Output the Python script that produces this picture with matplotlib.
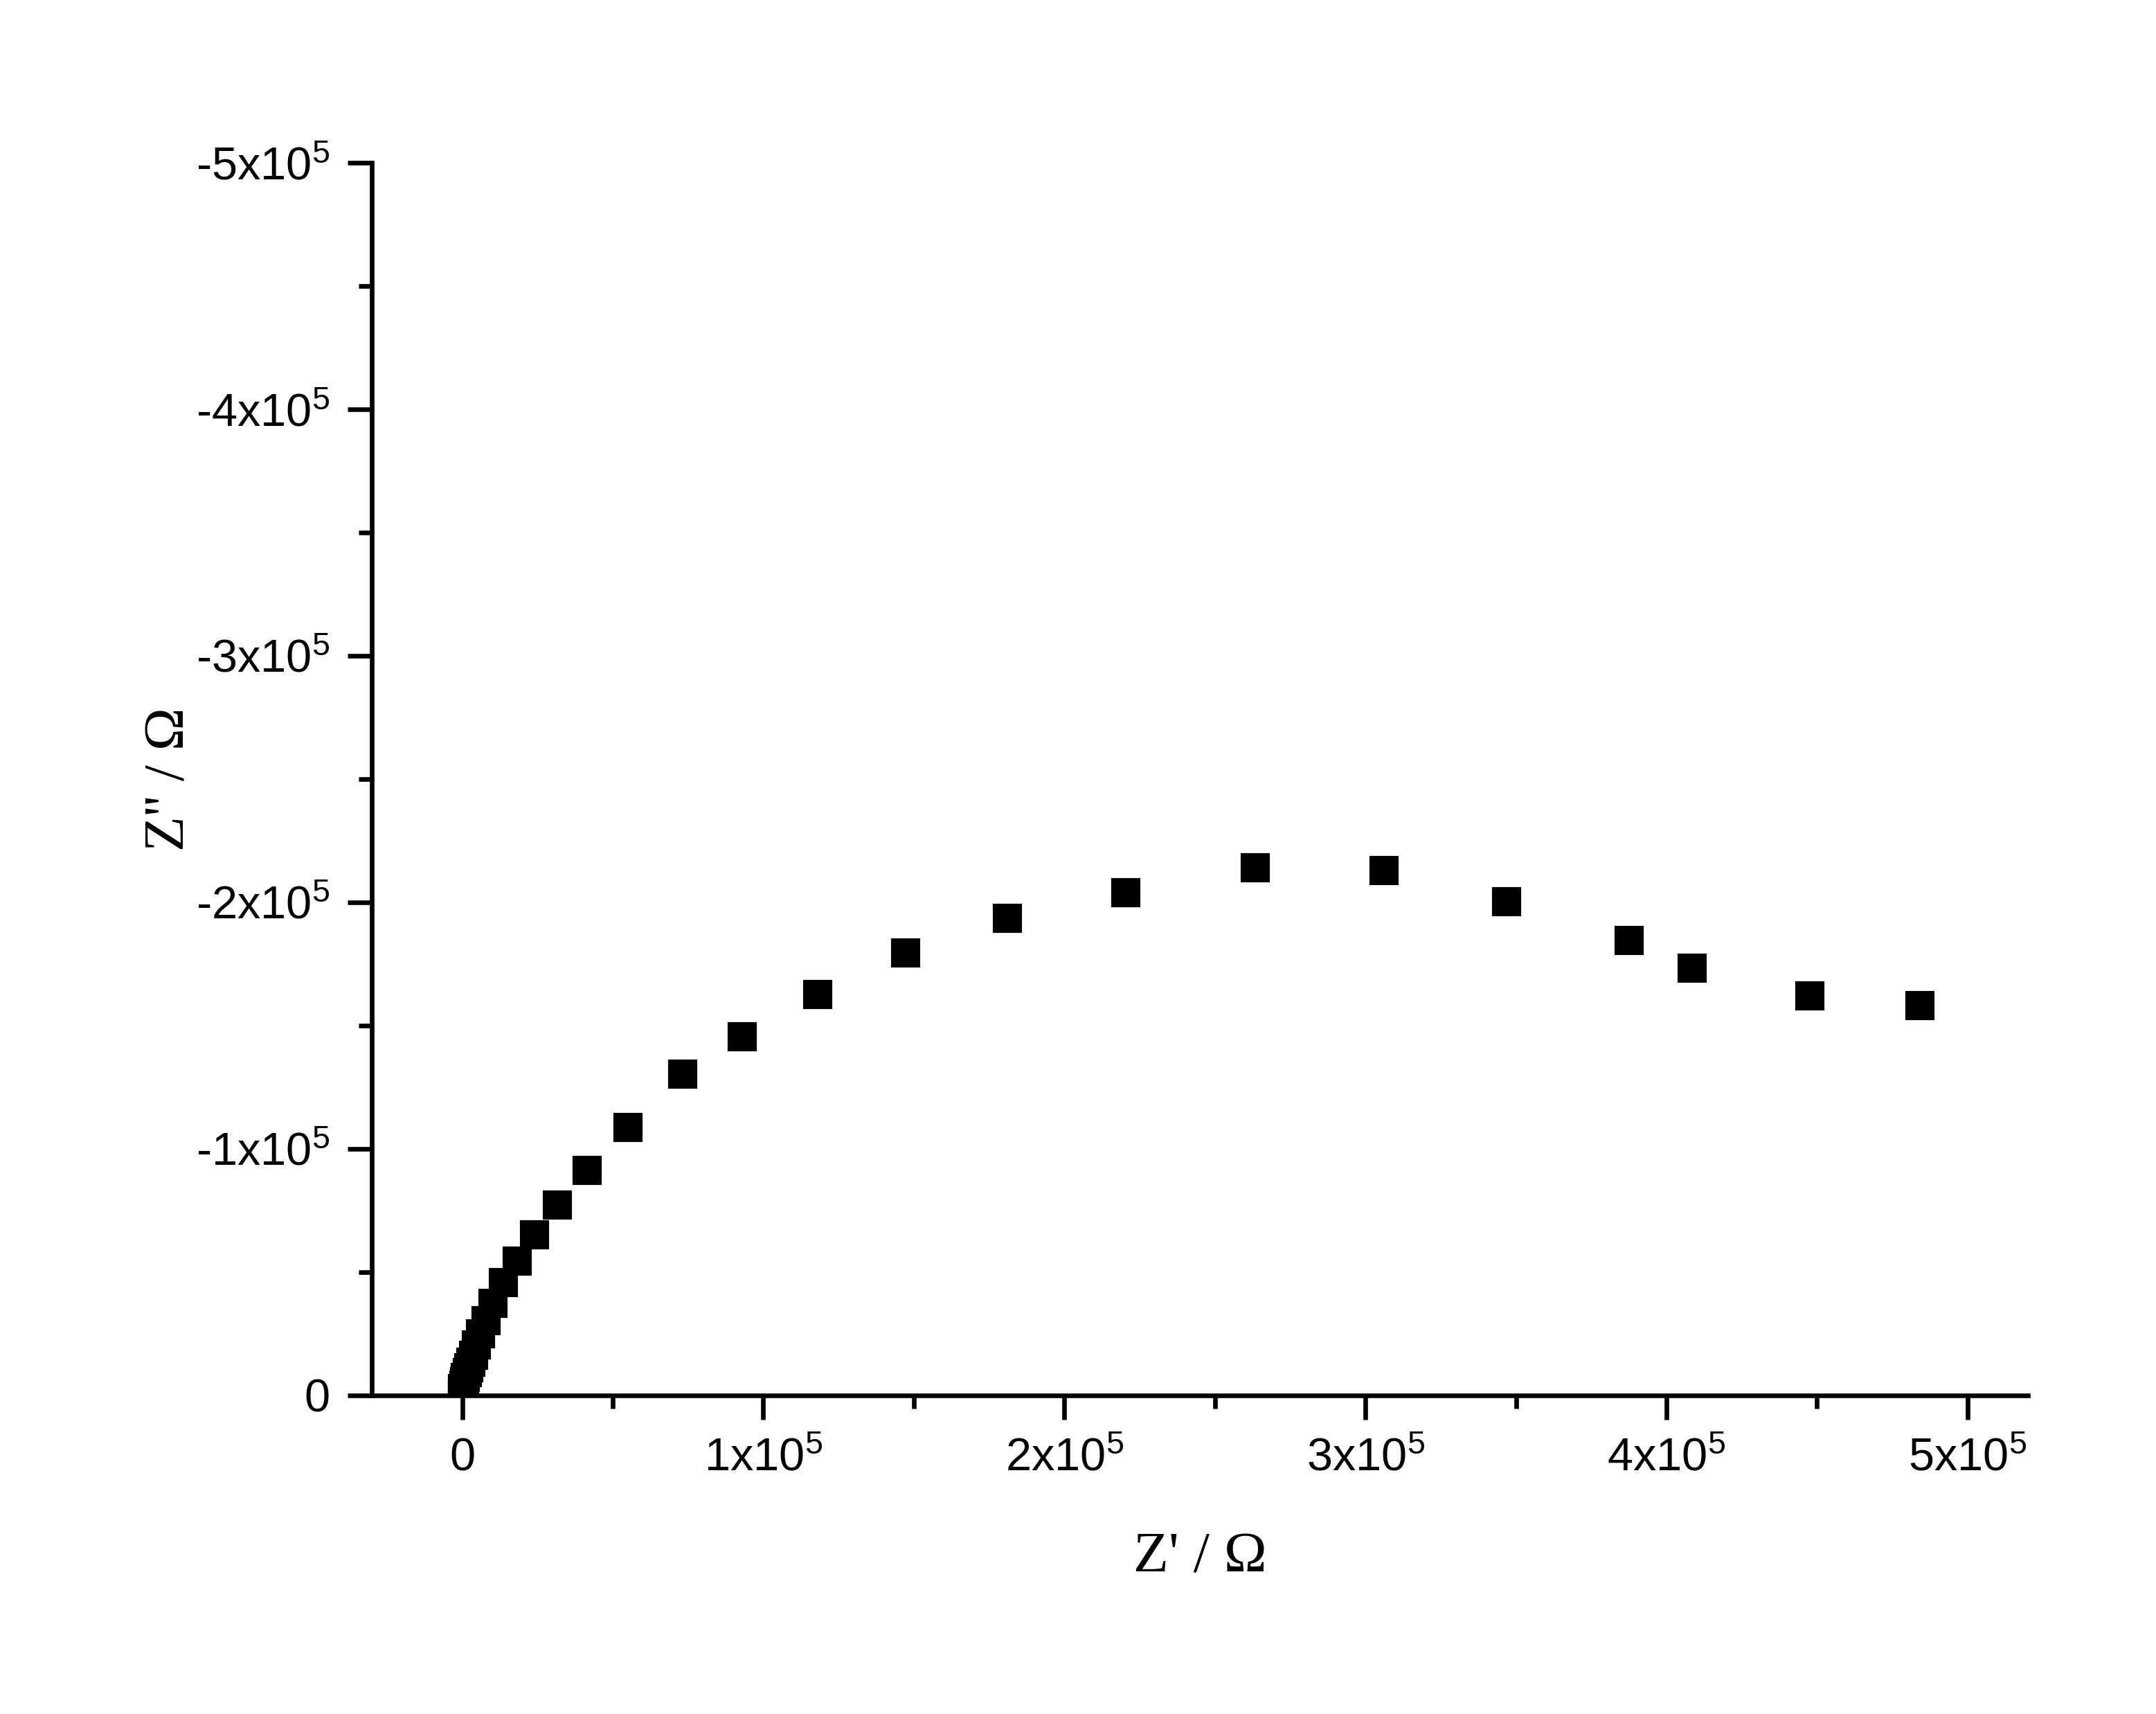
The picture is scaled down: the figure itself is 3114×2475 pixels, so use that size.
import matplotlib
matplotlib.use("Agg")
import matplotlib.pyplot as plt
from matplotlib.ticker import FixedLocator, MultipleLocator

plt.rcParams['font.family'] = ['Liberation Sans', 'DejaVu Sans']
plt.rcParams['mathtext.fontset'] = 'custom'
plt.rcParams['mathtext.rm'] = 'Liberation Sans'
plt.rcParams['mathtext.it'] = 'Liberation Sans'

# impedance data (ohm)
z_real = [484200, 447700, 408500, 387500, 346800, 306200, 263300, 220300,
          181100, 147300, 118100, 93000, 73300, 55100, 41400, 31700,
          23900, 18200, 13600, 10300, 7800, 6000, 4700, 3700, 2800,
          2100, 1600, 1100, 700, 500, 200, 0, 0]
z_imag = [-158200, -162100, -173300, -184400, -200100, -212900, -214000, -204000,
          -193400, -179400, -162700, -145400, -130300, -108600, -91300, -77200,
          -65000, -54300, -45600, -37200, -30300, -25000, -20300, -16300, -13500,
          -11200, -9300, -7300, -5600, -4200, -2800, -1700, -800]

xticks = [0, 1e5, 2e5, 3e5, 4e5, 5e5]
xticklabels = ['0', r'1x10$^{5}$', r'2x10$^{5}$', r'3x10$^{5}$', r'4x10$^{5}$', r'5x10$^{5}$']
yticks = [0, -1e5, -2e5, -3e5, -4e5, -5e5]
yticklabels = ['0', r'-1x10$^{5}$', r'-2x10$^{5}$', r'-3x10$^{5}$', r'-4x10$^{5}$', r'-5x10$^{5}$']

fig = plt.figure(figsize=(10.38, 8.25), dpi=300)
ax = fig.add_axes([0.1725, 0.186, 0.768, 0.719])

ax.plot(z_real, z_imag, ls='none', marker='s', ms=9, color='black', mec='black')

ax.set_xlim(-3e4, 5.2e5)
ax.set_ylim(0, -5e5)

ax.xaxis.set_major_locator(FixedLocator(xticks))
ax.set_xticklabels(xticklabels)
ax.xaxis.set_minor_locator(MultipleLocator(5e4))
ax.yaxis.set_major_locator(FixedLocator(yticks))
ax.set_yticklabels(yticklabels)
ax.yaxis.set_minor_locator(MultipleLocator(5e4))

for s in ['top', 'right']:
    ax.spines[s].set_visible(False)
for s in ['left', 'bottom']:
    ax.spines[s].set_linewidth(1.6)

ax.tick_params(which='major', direction='out', length=8.5, width=1.6, labelsize=16, pad=6)
ax.tick_params(which='minor', direction='out', length=4.5, width=1.6)

ax.set_xlabel("Z' / \u03a9", family=['Liberation Serif', 'DejaVu Serif'], fontsize=20, labelpad=18)
ax.set_ylabel("Z'' / \u03a9", family=['Liberation Serif', 'DejaVu Serif'], fontsize=20, labelpad=0)

fig.savefig("out.png", dpi=300)
